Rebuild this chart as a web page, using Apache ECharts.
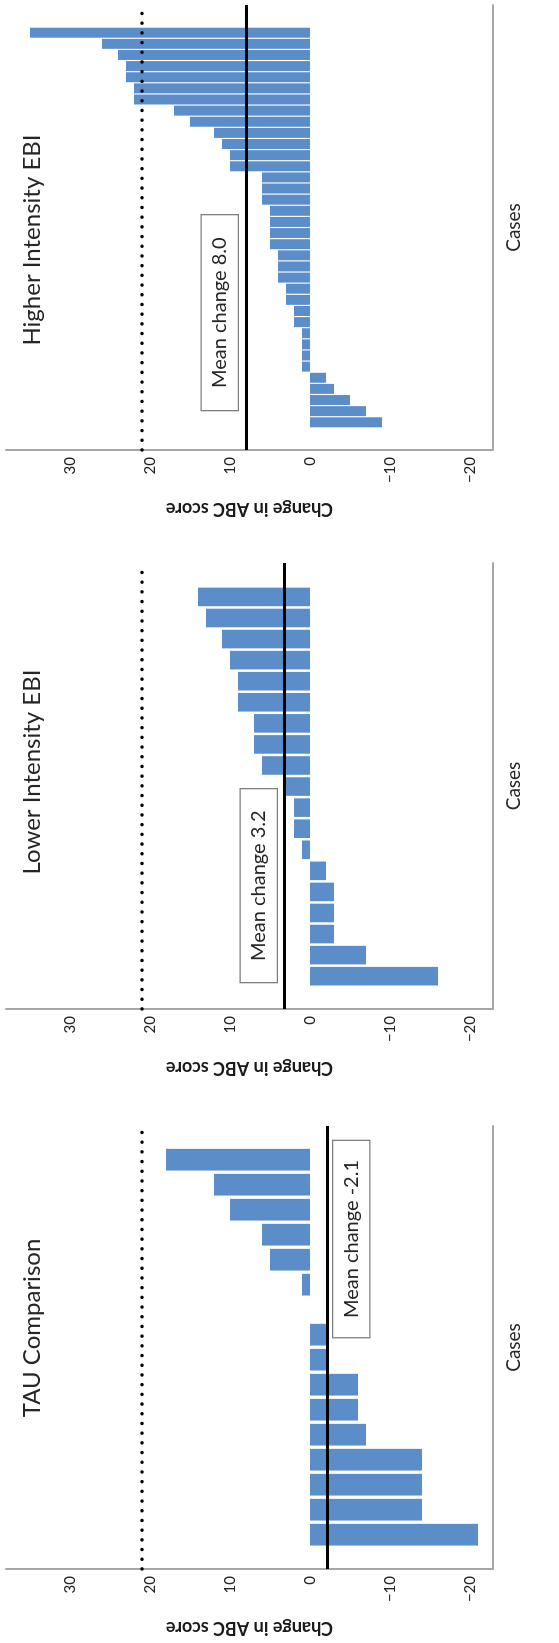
<!DOCTYPE html>
<html>
<head>
<meta charset="utf-8">
<script src="https://cdn.jsdelivr.net/npm/echarts@6/dist/echarts.min.js"></script>
<style>
html, body { margin: 0; padding: 0; background: #fff; width: 559px; height: 1643px; overflow: hidden; }
#chart { position: absolute; left: 0; top: 0; width: 1643px; height: 559px;
  transform-origin: 0 0; transform: translateY(1643px) rotate(-90deg); }
</style>
</head>
<body>
<div id="chart"></div>
<script>
// ---- data (each panel's cases sorted ascending, case 1 first) ----
const panelTitles = ['TAU Comparison', 'Lower Intensity EBI', 'Higher Intensity EBI'];
const tauValues = [-21, -14, -14, -14, -7, -6, -6, -2, -2, 0, 1, 5, 6, 10, 12, 18];
const lowerValues = [-16, -7, -3, -3, -3, -2, 1, 2, 2, 3, 6, 7, 7, 9, 9, 10, 11, 13, 14];
const higherValues = [-9, -7, -5, -3, -2, 1, 1, 1, 1, 2, 2, 3, 3, 4, 4, 4, 5, 5, 5, 5, 6, 6, 6,
  10, 10, 11, 12, 15, 17, 22, 22, 23, 23, 24, 26, 35];
const meanChanges = [-2.1, 3.2, 8.0];
const thresholdValue = 21;
const valueTickLabels = [-20, -10, 0, 10, 20, 30];
const valueAxisName = 'Change in ABC score';
const caseAxisName = 'Cases';

// ---- layout (drawn unrotated, page container rotated -90deg) ----
const panelValues = [tauValues, lowerValues, higherValues];
const gridLeft = [74, 634, 1193];
const gridWidth = [443, 446, 445];
const gridTop = 6, gridHeight = 487;
const caseMin = [-0.372, -0.557, -1.489];
const caseMax = [17.348, 20.61, 38.489];
const barWidths = [21.7, 18.6, 10];
const titleCenter = [310, 866, 1398];
const meanLabelPos = ['insideEndBottom', 'insideStartTop', 'insideStartTop'];
const meanLabelDist = [[15, 6.5], [27, 7.7], [40, 8.3]];
const meanLabelPad = [[8, 19], [8, 21], [8, 22]];
const FONT = 'Lato, "Open Sans", sans-serif';

const chart = echarts.init(document.getElementById('chart'), null, { renderer: 'canvas' });

const grid = [], xAxis = [], yAxis = [], series = [], title = [];
for (let p = 0; p < 3; p++) {
  grid.push({ left: gridLeft[p], width: gridWidth[p], top: gridTop, height: gridHeight, containLabel: false });
  xAxis.push({
    type: 'value', gridIndex: p, min: caseMin[p], max: caseMax[p],
    name: caseAxisName, nameLocation: 'middle', nameGap: 11,
    nameTextStyle: { fontFamily: FONT, fontSize: 19, color: '#262626' },
    axisLine: { show: true, onZero: false, lineStyle: { color: '#a6a6a6', width: 2 } },
    axisTick: { show: false }, axisLabel: { show: false }, splitLine: { show: false }
  });
  yAxis.push({
    type: 'value', gridIndex: p, min: -22.875, max: 38,
    name: valueAxisName, nameLocation: 'middle', nameGap: 50, nameRotate: 90,
    nameTextStyle: { fontFamily: FONT, fontSize: 18, fontWeight: 'bold', color: '#1a1a1a' },
    axisLine: { show: true, onZero: false, lineStyle: { color: '#a6a6a6', width: 2 } },
    axisTick: { show: false },
    axisLabel: {
      customValues: valueTickLabels, margin: 7,
      fontFamily: FONT, fontSize: 15, color: '#222',
      formatter: v => (v < 0 ? '\u2212' + Math.abs(v) : String(v))
    },
    splitLine: { show: false }
  });
  title.push({
    text: panelTitles[p], left: titleCenter[p], top: 15, textAlign: 'center',
    textStyle: { fontFamily: FONT, fontSize: 24, fontWeight: 'normal', color: '#262626' }
  });
  const m = meanChanges[p];
  series.push({
    type: 'bar', xAxisIndex: p, yAxisIndex: p,
    barWidth: barWidths[p],
    itemStyle: { color: '#5b8ec9' },
    data: panelValues[p].map((v, i) => [i + 1, v]),
    markLine: {
      silent: true, symbol: 'none', animation: false,
      data: [
        {
          yAxis: thresholdValue,
          lineStyle: { color: '#000', width: 3.5, type: [0.1, 9.6], cap: 'round' },
          label: { show: false }
        },
        {
          yAxis: m,
          lineStyle: { color: '#000', width: 3, type: 'solid' },
          label: {
            show: true, position: meanLabelPos[p], distance: meanLabelDist[p],
            formatter: 'Mean change ' + m.toFixed(1),
            fontFamily: FONT, fontSize: 20, color: '#262626',
            backgroundColor: '#fff', borderColor: '#7f7f7f', borderWidth: 1.3,
            padding: meanLabelPad[p]
          }
        }
      ]
    }
  });
}

chart.setOption({
  animation: false,
  backgroundColor: '#fff',
  title, grid, xAxis, yAxis, series
});
</script>
</body>
</html>
